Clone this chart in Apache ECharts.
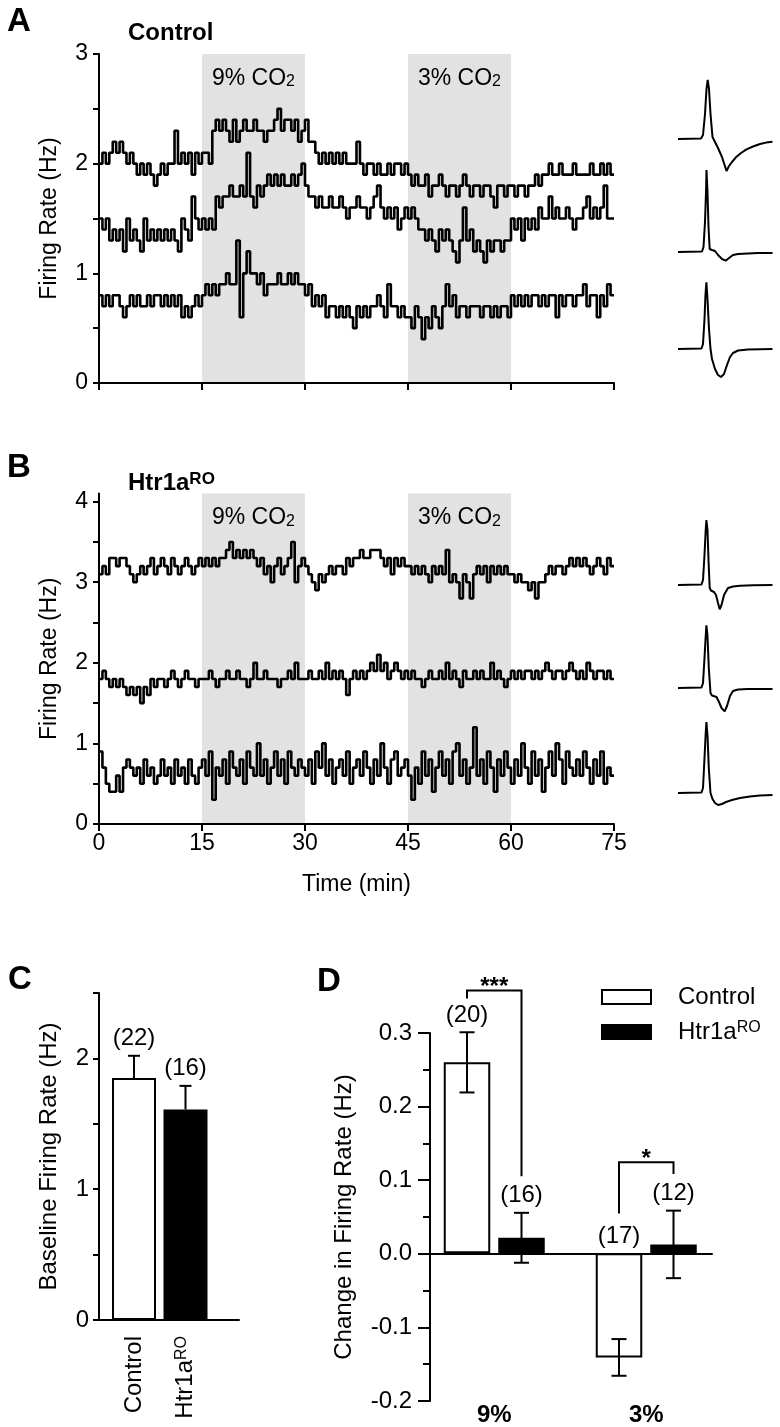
<!DOCTYPE html>
<html>
<head>
<meta charset="utf-8">
<script src="https://cdn.jsdelivr.net/npm/echarts@6/dist/echarts.min.js"></script>
<style>
html,body{margin:0;padding:0;background:#fff;}
#c{width:780px;height:1427px;}
</style>
</head>
<body>
<div id="c"></div>
<script>
// ---------------- DATA ----------------
// Firing-rate traces, one value per 0.5-min bin (Hz), 0-75 min
const binMin = 0.5;
const ctrlTrace1 = [
2.0,2.1,2.0,2.1,2.2,2.1,2.2,2.1,2.0,2.1, 2.0,1.9,2.0,1.9,2.0,1.9,1.8,1.9,2.0,1.9,
2.0,2.0,2.3,2.0,2.1,2.0,2.1,1.9,2.1,2.0, 2.1,2.1,2.0,2.3,2.4,2.3,2.4,2.3,2.2,2.4,
2.2,2.3,2.4,2.3,2.3,2.4,2.3,2.3,2.2,2.3, 2.3,2.4,2.5,2.3,2.4,2.4,2.3,2.4,2.2,2.3,
2.4,2.2,2.2,2.1,2.0,2.1,2.0,2.1,2.0,2.1, 2.0,2.1,2.0,2.0,2.0,2.2,2.0,1.9,2.0,2.0,
1.9,2.0,1.9,1.9,2.0,1.9,2.0,2.0,1.9,2.0, 1.9,1.8,1.9,1.8,1.8,1.9,1.7,1.8,1.8,1.9,
1.8,1.7,1.8,1.8,1.7,1.8,1.9,1.8,1.7,1.8, 1.8,1.7,1.8,1.8,1.7,1.6,1.8,1.8,1.7,1.8,
1.8,1.7,1.8,1.8,1.7,1.8,1.8,1.9,1.8,1.9, 1.9,2.0,1.9,1.9,2.0,1.9,1.9,1.9,2.0,1.9,
1.9,1.9,1.9,2.0,1.9,1.9,2.0,1.9,2.0,1.9];
const ctrlTrace2 = [
1.5,1.4,1.5,1.3,1.4,1.3,1.4,1.2,1.5,1.3, 1.4,1.3,1.2,1.5,1.3,1.4,1.3,1.4,1.3,1.4,
1.3,1.4,1.3,1.2,1.5,1.4,1.3,1.7,1.5,1.4, 1.5,1.4,1.5,1.4,1.7,1.6,1.7,1.7,1.8,1.7,
1.7,1.8,1.7,2.1,1.7,1.6,1.8,1.7,1.8,1.9, 1.8,1.9,1.8,1.9,1.8,1.8,1.9,1.8,1.9,2.0,
1.8,1.7,1.7,1.6,1.7,1.6,1.6,1.7,1.6,1.6, 1.7,1.6,1.5,1.6,1.6,1.7,1.6,1.6,1.5,1.6,
1.7,1.8,1.6,1.5,1.6,1.5,1.6,1.4,1.5,1.6, 1.5,1.6,1.5,1.4,1.4,1.3,1.4,1.3,1.2,1.4,
1.3,1.4,1.3,1.2,1.1,1.3,1.6,1.3,1.4,1.2, 1.3,1.2,1.1,1.3,1.2,1.3,1.3,1.2,1.3,1.3,
1.5,1.4,1.5,1.3,1.5,1.4,1.5,1.4,1.6,1.5, 1.5,1.7,1.5,1.6,1.5,1.5,1.6,1.5,1.4,1.5,
1.5,1.6,1.7,1.5,1.6,1.5,1.6,1.8,1.5,1.5];
const ctrlTrace3 = [
0.8,0.7,0.8,0.7,0.8,0.8,0.7,0.6,0.7,0.8, 0.7,0.8,0.7,0.7,0.8,0.7,0.8,0.8,0.7,0.8,
0.7,0.8,0.7,0.8,0.6,0.7,0.6,0.7,0.8,0.7, 0.8,0.9,0.8,0.9,0.8,0.9,0.9,1.0,0.9,0.9,
1.3,0.6,1.0,1.2,1.0,1.0,0.9,1.0,0.8,0.9, 0.9,0.9,1.0,0.9,0.9,1.0,0.9,1.0,0.9,0.9,
0.8,0.9,0.7,0.8,0.7,0.8,0.6,0.7,0.7,0.6, 0.7,0.6,0.7,0.6,0.5,0.7,0.6,0.7,0.6,0.7,
0.7,0.8,0.7,0.6,0.9,0.7,0.7,0.6,0.7,0.6, 0.6,0.5,0.7,0.6,0.4,0.6,0.5,0.7,0.6,0.5,
0.7,0.9,0.7,0.8,0.6,0.7,0.7,0.6,0.7,0.7, 0.7,0.6,0.7,0.7,0.6,0.7,0.6,0.7,0.7,0.6,
0.8,0.7,0.8,0.7,0.8,0.7,0.8,0.8,0.7,0.8, 0.7,0.8,0.8,0.6,0.8,0.7,0.8,0.8,0.7,0.8,
0.8,0.9,0.7,0.8,0.8,0.6,0.8,0.7,0.9,0.8];
const htrTrace1 = [
3.1,3.2,3.1,3.3,3.3,3.2,3.3,3.3,3.2,3.1, 3.0,3.1,3.2,3.1,3.2,3.3,3.1,3.2,3.3,3.2,
3.1,3.3,3.2,3.1,3.2,3.3,3.2,3.1,3.2,3.3, 3.2,3.3,3.2,3.3,3.2,3.3,3.3,3.4,3.5,3.3,
3.4,3.3,3.4,3.3,3.4,3.3,3.2,3.3,3.1,3.2, 3.0,3.2,3.3,3.1,3.2,3.3,3.5,3.0,3.2,3.3,
3.2,3.1,3.0,2.9,3.1,3.0,3.1,3.2,3.1,3.2, 3.2,3.1,3.3,3.2,3.3,3.3,3.4,3.3,3.3,3.4,
3.4,3.4,3.3,3.2,3.3,3.1,3.3,3.2,3.3,3.2, 3.2,3.1,3.2,3.1,3.2,3.1,3.0,3.2,3.1,3.2,
3.1,3.4,3.0,3.1,3.0,2.8,3.1,3.0,2.8,3.1, 3.2,3.1,3.2,3.0,3.2,3.1,3.2,3.1,3.2,3.1,
3.1,3.0,3.1,3.0,3.0,2.9,3.0,2.8,3.0,3.0, 3.1,3.2,3.1,3.2,3.2,3.1,3.2,3.3,3.2,3.3,
3.2,3.3,3.2,3.1,3.2,3.3,3.2,3.1,3.3,3.2];
const htrTrace2 = [
1.8,1.9,1.8,1.7,1.8,1.7,1.8,1.7,1.6,1.7, 1.6,1.7,1.5,1.7,1.6,1.8,1.7,1.8,1.8,1.7,
1.8,1.9,1.8,1.7,1.8,1.9,1.8,1.8,1.7,1.8, 1.8,1.8,1.9,1.8,1.7,1.8,1.8,1.9,1.8,1.8,
1.9,1.8,1.8,1.7,1.8,2.0,1.8,1.8,1.9,1.8, 1.8,1.8,1.7,1.8,1.8,1.9,1.8,2.0,1.8,1.8,
1.8,1.9,1.8,1.8,1.9,1.8,2.0,1.8,1.9,1.8, 1.9,1.8,1.6,1.8,1.9,1.8,1.9,1.8,1.9,2.0,
1.9,2.1,1.9,2.0,1.8,1.9,2.0,1.9,1.8,1.9, 1.8,1.9,1.8,1.8,1.7,1.8,1.9,1.8,1.8,1.9,
1.8,2.0,1.8,1.9,1.8,1.7,1.9,1.8,1.8,1.9, 1.8,1.9,1.8,1.8,2.0,1.8,1.9,1.8,1.7,1.8,
1.9,1.8,1.9,1.8,1.9,1.9,1.8,1.9,1.8,1.9, 2.0,1.9,1.8,1.9,1.9,1.8,1.9,2.0,1.9,1.8,
1.9,1.8,2.0,1.9,1.8,1.9,1.9,1.8,1.9,1.8];
const htrTrace3 = [
0.9,0.7,0.5,0.4,0.4,0.6,0.4,0.7,0.8,0.7, 0.6,0.7,0.5,0.8,0.6,0.7,0.5,0.6,0.8,0.6,
0.7,0.5,0.8,0.6,0.7,0.5,0.8,0.6,0.5,0.7, 0.8,0.6,0.9,0.3,0.7,0.6,0.8,0.5,0.9,0.7,
0.6,0.8,0.5,0.9,0.7,0.6,1.0,0.6,0.8,0.5, 0.7,0.9,0.6,0.8,0.5,0.9,0.7,0.6,0.8,0.7,
0.6,0.8,0.5,0.9,0.7,1.0,0.6,0.8,0.5,0.7, 0.8,0.6,0.9,0.5,0.7,0.8,0.6,0.9,0.7,0.5,
0.8,0.6,1.0,0.7,0.5,0.8,0.9,0.6,0.7,0.8, 0.6,0.3,0.7,0.5,0.9,0.6,0.8,0.4,0.7,0.9,
0.6,0.8,0.5,0.9,1.0,0.6,0.8,0.5,0.7,1.2, 0.6,0.8,0.5,0.9,0.7,0.4,0.8,0.6,0.9,0.7,
0.5,0.8,0.6,1.0,0.7,0.5,0.9,0.6,0.8,0.4, 0.7,0.9,0.6,1.0,0.8,0.5,0.9,0.7,0.6,0.8,
0.6,0.9,0.7,0.5,0.8,0.6,0.9,0.5,0.7,0.6];

// CO2 challenge periods (min)
const co2Periods = [[15, 30, '9% CO{sub|2}'], [45, 60, '3% CO{sub|2}']];

// Averaged spike waveforms: [time (a.u.), voltage (a.u.)]
const waveCtrl1 = [[0,0],[23,0.5],[25,4],[27,25],[28.5,50],[29.7,59],[31,50],[32.5,25],[34.5,2],[36,-1],[40,-9],[44,-18],[48.5,-32],[51,-27],[54,-23],[58.5,-17.7],[63,-14],[68.5,-10.3],[75,-7.5],[82,-5],[88,-3.6],[94.5,-2.7]];
const waveCtrl2 = [[0,0],[24,0.5],[25.5,5],[27,30],[28,60],[28.5,82],[29.5,60],[30.5,25],[31.7,3],[34,2],[37,1],[40,-3],[44,-7],[47.7,-8.7],[51,-6],[55,-3],[60,-2],[70,-1.5],[80,-1],[94.5,-1]];
const waveCtrl3 = [[0,0],[23.5,0.5],[25,5],[26.5,30],[27.5,55],[28.4,66.6],[29.5,50],[31,20],[32.5,0],[34,-10],[37,-20],[40,-26],[43,-28],[46,-25],[49,-16],[52,-8],[55,-4],[60,-1.5],[70,-0.5],[94.5,0]];
const waveHtr1 = [[0,0],[23.5,0.5],[25,5],[26.5,30],[27.7,55],[28.4,65],[29.5,55],[30.5,25],[31.7,-3],[33,-5.5],[36,-7],[38,-10],[40,-18],[41.7,-24.3],[43.5,-20],[46,-10],[50,-3],[55,-1.5],[62,-0.7],[75,-0.2],[94.5,0]];
const waveHtr2 = [[0,0],[23.5,0.5],[25,5],[26.5,30],[27.7,52],[28.4,62.6],[29.5,52],[30.8,20],[32.5,-5],[34,-7.5],[36,-8.5],[38.5,-9],[41,-14],[43.5,-20],[46.7,-23.4],[49,-18],[52,-8],[55,-3],[60,-1.5],[70,-1],[94.5,-1]];
const waveHtr3 = [[0,0],[23.5,0.5],[25,5],[26.5,35],[27.7,60],[28.4,71],[29.5,58],[30.8,25],[32.5,0],[34.5,-6],[37,-10],[40,-12],[44,-11],[48,-9],[54,-7],[62,-5],[72,-3.5],[82,-2.5],[94.5,-2]];

// Panel C: baseline firing rate
const baselineGroups = ['Control', 'Htr1a^RO'];
const baselineMean = [1.85, 1.61];
const baselineSem = [0.17, 0.18];
const baselineN = ['(22)', '(16)'];

// Panel D: change in firing rate
const co2Conditions = ['9%', '3%'];
const changeCtrlMean = [0.26, -0.142];
const changeCtrlSem = [0.041, 0.025];
const changeCtrlN = ['(20)', '(17)'];
const changeHtrMean = [0.021, 0.012];
const changeHtrSem = [0.034, 0.046];
const changeHtrN = ['(16)', '(12)'];
// significance brackets: category, bracket height, left/right leg ends (Hz)
const sigCategory = [0, 1];
const sigTop = [0.358, 0.124];
const sigLeftEnd = [0.347, 0.054];
const sigRightEnd = [0.105, 0.108];
const sigLabel = ['***', '*'];

// ---------------- STYLE / LAYOUT ----------------
const FONT = '"Liberation Sans", Arial, Helvetica, sans-serif';
const BLACK = '#000';
const BAND = '#e2e2e2';
const supRich = {sup: {fontSize: 16, fontFamily: FONT, color: BLACK, verticalAlign: 'top', lineHeight: 14}};
const subRich = {sub: {fontSize: 16, fontFamily: FONT, color: BLACK, verticalAlign: 'bottom', lineHeight: 14}};
const richName = n => n.replace('^RO', '{sup|RO}');
const aLine = {show: true, onZero: true, lineStyle: {color: BLACK, width: 2}};
const aTick = len => ({show: true, inside: false, length: len, lineStyle: {color: BLACK, width: 2}});
const waveBase = [139, 252, 349, 585, 688, 793];
const waves = [waveCtrl1, waveCtrl2, waveCtrl3, waveHtr1, waveHtr2, waveHtr3];
const dBarWidth = 46.5, dBarGapPx = 8;
const dOffset = (dBarWidth + dBarGapPx) / 2;

function stepData(arr) {
  const d = arr.map((v, i) => [i * binMin, v]);
  d.push([arr.length * binMin, arr[arr.length - 1]]);
  return d;
}
const intLabel = v => (Math.abs(v - Math.round(v)) < 1e-6 ? String(Math.round(v)) : '');

const grid = [
  {left: 99, top: 54, width: 515, height: 329},          // A
  {left: 99, top: 493.6, width: 515, height: 330.4},     // B
];
waveBase.forEach(b => grid.push({left: 678, top: b - 85, width: 94.5, height: 120}));
grid.push({left: 108.25, top: 993, width: 103, height: 327});   // 8 C bars
grid.push({left: 99, top: 993, width: 140, height: 327});       // 9 C axes
grid.push({left: 418.25, top: 1033, width: 304, height: 368});  // 10 D bars
grid.push({left: 430, top: 1033, width: 282, height: 368});     // 11 D axes

const xAxis = [], yAxis = [];
// A
xAxis.push({type: 'value', gridIndex: 0, min: 0, max: 75, interval: 15, z: 10,
  axisLine: aLine, axisTick: aTick(7), axisLabel: {show: false}, splitLine: {show: false}});
yAxis.push({type: 'value', gridIndex: 0, min: 0, max: 3, interval: 0.5, z: 10,
  axisLine: aLine, axisTick: aTick(6), splitLine: {show: false},
  axisLabel: {margin: 11, fontSize: 23, fontFamily: FONT, color: BLACK, formatter: intLabel},
  name: 'Firing Rate (Hz)', nameLocation: 'middle', nameGap: 38,
  nameTextStyle: {fontSize: 23, fontFamily: FONT, color: BLACK}});
// B
xAxis.push({type: 'value', gridIndex: 1, min: 0, max: 75, interval: 15, z: 10,
  axisLine: aLine, axisTick: aTick(7), splitLine: {show: false},
  axisLabel: {margin: 8, fontSize: 23, fontFamily: FONT, color: BLACK},
  name: 'Time (min)', nameLocation: 'middle', nameGap: 49,
  nameTextStyle: {fontSize: 23, fontFamily: FONT, color: BLACK}});
yAxis.push({type: 'value', gridIndex: 1, min: 0, max: 4.1, z: 10,
  axisLine: aLine, splitLine: {show: false},
  axisTick: Object.assign(aTick(6), {customValues: [0,0.5,1,1.5,2,2.5,3,3.5,4]}),
  axisLabel: {margin: 11, fontSize: 23, fontFamily: FONT, color: BLACK, customValues: [0,1,2,3,4], formatter: intLabel},
  name: 'Firing Rate (Hz)', nameLocation: 'middle', nameGap: 38,
  nameTextStyle: {fontSize: 23, fontFamily: FONT, color: BLACK}});
// waveforms
waves.forEach((w, i) => {
  xAxis.push({type: 'value', gridIndex: 2 + i, min: 0, max: 94.5, show: false});
  yAxis.push({type: 'value', gridIndex: 2 + i, min: -35, max: 85, show: false});
});
// C bars (8)
xAxis.push({type: 'category', gridIndex: 8, data: baselineGroups,
  axisLine: {show: false, onZero: false}, axisTick: {show: false},
  axisLabel: {rotate: 90, margin: 16, fontSize: 24, fontFamily: FONT, color: BLACK, formatter: richName, rich: supRich}});
yAxis.push({type: 'value', gridIndex: 8, min: 0, max: 2.5, show: false});
// C axes (9)
xAxis.push({type: 'value', gridIndex: 9, min: 0, max: 1, z: 10, axisLine: aLine,
  axisTick: {show: false}, axisLabel: {show: false}, splitLine: {show: false}});
yAxis.push({type: 'value', gridIndex: 9, min: 0, max: 2.5, interval: 0.5, z: 10,
  axisLine: aLine, axisTick: aTick(6), splitLine: {show: false},
  axisLabel: {margin: 10, fontSize: 24, fontFamily: FONT, color: BLACK, formatter: intLabel},
  name: 'Baseline Firing Rate (Hz)', nameLocation: 'middle', nameGap: 38,
  nameTextStyle: {fontSize: 24, fontFamily: FONT, color: BLACK}});
// D bars (10)
xAxis.push({type: 'category', gridIndex: 10, data: co2Conditions,
  axisLine: {show: false, onZero: false}, axisTick: {show: false},
  axisLabel: {margin: 3, fontSize: 24, fontWeight: 'bold', fontFamily: FONT, color: BLACK}});
yAxis.push({type: 'value', gridIndex: 10, min: -0.2, max: 0.3, show: false});
// D axes (11)
xAxis.push({type: 'value', gridIndex: 11, min: 0, max: 1, z: 10, axisLine: aLine,
  axisTick: {show: false}, axisLabel: {show: false}, splitLine: {show: false}});
yAxis.push({type: 'value', gridIndex: 11, min: -0.2, max: 0.3, interval: 0.1, z: 10,
  axisLine: aLine, axisTick: aTick(12), splitLine: {show: false},
  minorTick: {show: true, splitNumber: 2, length: 7, lineStyle: {color: BLACK, width: 2}},
  axisLabel: {margin: 18, fontSize: 24, fontFamily: FONT, color: BLACK,
    formatter: v => (Math.abs(v) < 1e-9 ? '0.0' : v.toFixed(1))},
  name: 'Change in Firing Rate (Hz)', nameLocation: 'middle', nameGap: 74,
  nameTextStyle: {fontSize: 24, fontFamily: FONT, color: BLACK}});

const series = [];
[[ctrlTrace1, ctrlTrace2, ctrlTrace3], [htrTrace1, htrTrace2, htrTrace3]].forEach((traces, p) => {
  series.push({type: 'line', xAxisIndex: p, yAxisIndex: p, data: [], silent: true, z: 1,
    markArea: {silent: true, itemStyle: {color: BAND},
      label: {show: true, position: 'insideTop', distance: 13, formatter: '{b}',
        fontSize: 23, fontFamily: FONT, color: BLACK, rich: subRich},
      data: co2Periods.map(c => [{xAxis: c[0], name: c[2]}, {xAxis: c[1]}])}});
  traces.forEach(tr => series.push({type: 'line', xAxisIndex: p, yAxisIndex: p, step: 'end',
    symbol: 'none', silent: true, z: 3, data: stepData(tr), lineStyle: {color: BLACK, width: 2.6}}));
});
waves.forEach((w, i) => series.push({type: 'line', xAxisIndex: 2 + i, yAxisIndex: 2 + i, symbol: 'none',
  silent: true, data: w, lineStyle: {color: BLACK, width: 2}}));

// error bar renderer
function errBars(means, sems, labels, offset, upOnly) {
  return function (params, api) {
    const i = params.dataIndex;
    const cat = api.value(0);
    const c = api.coord([cat, means[i]]);
    const x = c[0] + offset;
    const yTop = api.coord([cat, means[i] + sems[i]])[1];
    const yBot = upOnly ? c[1] : api.coord([cat, means[i] - sems[i]])[1];
    const yZero = api.coord([cat, 0])[1];
    const st = {stroke: BLACK, lineWidth: 2};
    const half = upOnly ? 6 : 7.5;
    const ch = [
      {type: 'line', shape: {x1: x, y1: yTop, x2: x, y2: yBot}, style: st},
      {type: 'line', shape: {x1: x - half, y1: yTop, x2: x + half, y2: yTop}, style: st}
    ];
    if (!upOnly) ch.push({type: 'line', shape: {x1: x - half, y1: yBot, x2: x + half, y2: yBot}, style: st});
    ch.push({type: 'text', style: {x: x, y: Math.min(yTop, yZero) - 5, text: labels[i],
      font: '24px ' + FONT, fill: BLACK, align: 'center', verticalAlign: 'bottom',
      textAlign: 'center', textVerticalAlign: 'bottom'}});
    return {type: 'group', children: ch};
  };
}

// C
const baselineFill = ['#fff', '#000'];
series.push({type: 'bar', name: 'Baseline', xAxisIndex: 8, yAxisIndex: 8, barWidth: 44, silent: true,
  data: baselineMean.map((m, i) => ({value: m, itemStyle: {color: baselineFill[i]}})),
  itemStyle: {borderColor: BLACK, borderWidth: 2}});
series.push({type: 'custom', xAxisIndex: 8, yAxisIndex: 8, clip: false, silent: true, z: 5,
  data: baselineGroups.map((g, i) => [i, baselineMean[i]]),
  renderItem: errBars(baselineMean, baselineSem, baselineN, 0, true)});
// D
series.push({type: 'bar', name: 'Control', xAxisIndex: 10, yAxisIndex: 10, barWidth: dBarWidth,
  barGap: (dBarGapPx / dBarWidth * 100).toFixed(1) + '%', silent: true, data: changeCtrlMean,
  itemStyle: {color: '#fff', borderColor: BLACK, borderWidth: 2}});
series.push({type: 'bar', name: 'Htr1a^RO', xAxisIndex: 10, yAxisIndex: 10, barWidth: dBarWidth,
  barGap: (dBarGapPx / dBarWidth * 100).toFixed(1) + '%', silent: true, data: changeHtrMean,
  itemStyle: {color: '#000', borderColor: BLACK, borderWidth: 2}});
series.push({type: 'custom', xAxisIndex: 10, yAxisIndex: 10, clip: false, silent: true, z: 5,
  data: co2Conditions.map((c, i) => [i, changeCtrlMean[i]]),
  renderItem: errBars(changeCtrlMean, changeCtrlSem, changeCtrlN, -dOffset, false)});
series.push({type: 'custom', xAxisIndex: 10, yAxisIndex: 10, clip: false, silent: true, z: 5,
  data: co2Conditions.map((c, i) => [i, changeHtrMean[i]]),
  renderItem: errBars(changeHtrMean, changeHtrSem, changeHtrN, dOffset, false)});
series.push({type: 'custom', xAxisIndex: 10, yAxisIndex: 10, clip: false, silent: true, z: 6,
  data: sigCategory.map((c, i) => [c, sigTop[i]]),
  renderItem: function (params, api) {
    const i = params.dataIndex;
    const cat = api.value(0);
    const p = api.coord([cat, sigTop[i]]);
    const x1 = p[0] - dOffset, x2 = p[0] + dOffset;
    const yl = api.coord([cat, sigLeftEnd[i]])[1];
    const yr = api.coord([cat, sigRightEnd[i]])[1];
    const st = {stroke: BLACK, lineWidth: 2, fill: null};
    return {type: 'group', children: [
      {type: 'polyline', shape: {points: [[x1, yl], [x1, p[1]], [x2, p[1]], [x2, yr]]}, style: st},
      {type: 'text', style: {x: (x1 + x2) / 2, y: p[1] - 3, text: sigLabel[i], font: 'bold 24px ' + FONT,
        fill: BLACK, align: 'center', verticalAlign: 'middle', textAlign: 'center', textVerticalAlign: 'middle'}}
    ]};
  }});

const txt = (x, y, text, font, rich) => ({type: 'text', x: x, y: y,
  style: {text: text, font: font, fill: BLACK, textVerticalAlign: 'middle', verticalAlign: 'middle', rich: rich}});

const option = {
  animation: false,
  backgroundColor: '#fff',
  textStyle: {fontFamily: FONT},
  grid: grid, xAxis: xAxis, yAxis: yAxis, series: series,
  legend: {data: ['Control', 'Htr1a^RO'], orient: 'vertical', left: 596, top: 980, icon: 'rect',
    itemWidth: 49, itemHeight: 14, itemGap: 11, selectedMode: false,
    formatter: richName,
    textStyle: {fontSize: 24, fontFamily: FONT, color: BLACK, padding: [0, 0, 0, 22], rich: supRich}},
  graphic: [
    txt(7, 22, 'A', 'bold 33px ' + FONT),
    txt(7, 468, 'B', 'bold 33px ' + FONT),
    txt(8, 980, 'C', 'bold 33px ' + FONT),
    txt(317, 982, 'D', 'bold 33px ' + FONT),
    txt(128, 33, 'Control', 'bold 24px ' + FONT),
    {type: 'text', x: 128, y: 483, style: {text: 'Htr1a{sup|RO}', font: 'bold 24px ' + FONT, fill: BLACK,
      textVerticalAlign: 'middle', verticalAlign: 'middle',
      rich: {sup: {fontSize: 17, fontWeight: 'bold', fontFamily: FONT, fill: BLACK, color: BLACK, verticalAlign: 'top', lineHeight: 14}}}}
  ]
};
const chart = echarts.init(document.getElementById('c'), null, {renderer: 'canvas', width: 780, height: 1427});
chart.setOption(option);
</script>
</body>
</html>
